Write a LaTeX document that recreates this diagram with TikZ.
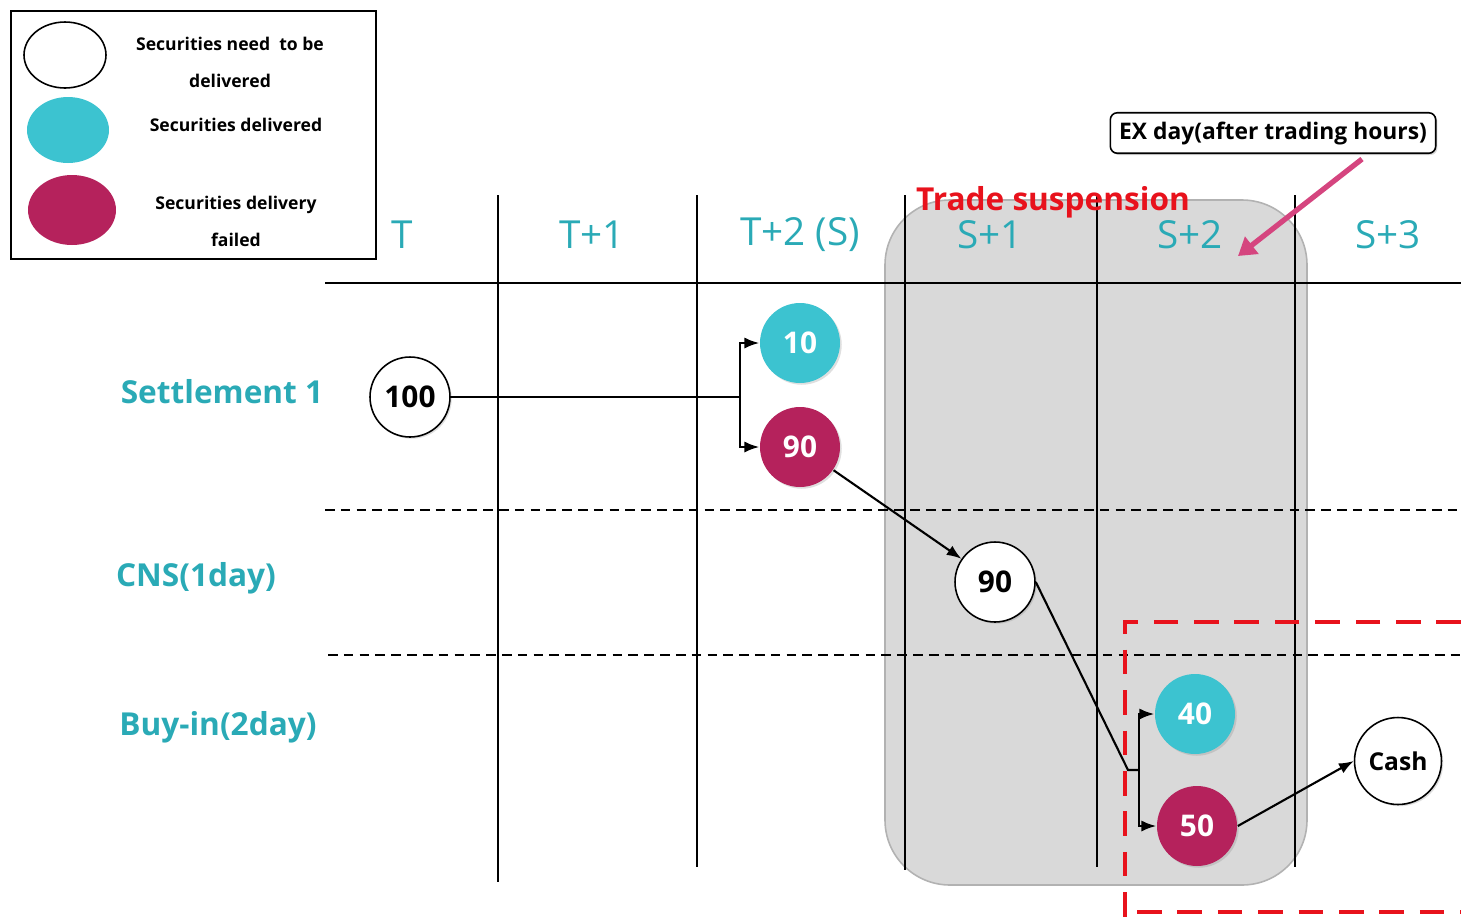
\documentclass[tikz,border=0pt]{standalone}
\usepackage{fontspec}
\setmainfont{Open Sans}
\usetikzlibrary{positioning,arrows.meta,shadows,shapes.geometric}
\definecolor{tealtxt}{HTML}{2AAAB6}
\definecolor{cyanc}{HTML}{3CC3D0}
\definecolor{magc}{HTML}{B5225C}
\definecolor{redc}{HTML}{E8121C}
\definecolor{pinkc}{HTML}{D5457F}
\definecolor{grayc}{HTML}{D9D9D9}

\begin{document}
\begin{tikzpicture}[x=0.02cm,y=-0.02cm,line width=0.9pt,
        hdr/.style={text=tealtxt,font=\fontsize{22}{26}\selectfont},
        rowlbl/.style={text=tealtxt,font=\bfseries\fontsize{18}{22}\selectfont},
        need/.style={circle,draw,line width=0.9pt,fill=white,minimum size=1.6cm,inner sep=0pt,font=\bfseries\fontsize{17}{20}\selectfont,drop shadow={opacity=0.25,shadow xshift=1pt,shadow yshift=-1pt}},
        done/.style={need,draw=none,fill=cyanc,text=white},
        fail/.style={need,draw=none,fill=magc,text=white},
        conn/.style={line width=1.2pt},
        lgd/.style={font=\bfseries\fontsize{10}{21}\selectfont,align=center},
        lgshape/.style={ellipse,inner sep=0pt}]
        \useasboundingbox (0,0) rectangle (1461,917);
        \draw[gray!60,fill=grayc,rounded corners=1.3cm] (885,200) rectangle (1307,885);
        \draw[line width=1.6pt] (11,11) rectangle (376,259);
        \node[lgshape,draw,fill=white,minimum width=1.64cm,minimum height=1.32cm] (lgneed) at (65,55) {};
        \node[lgshape,fill=cyanc,minimum width=1.64cm,minimum height=1.32cm] (lgdone) at (68,130) {};
        \node[lgshape,fill=magc,minimum width=1.76cm,minimum height=1.4cm] (lgfail) at (72,210) {};
        \node[lgd] (lgneedtxt) at (230,62) {Securities need\ \ to be\\delivered};
        \node[lgd] (lgdonetxt) at (236,125) {Securities delivered};
        \node[lgd] (lgfailtxt) at (236,221) {Securities delivery\\failed};
        \draw (325,283) -- (1461,283);
        \foreach \x/\b in {498/882,697/867,905/870,1097/867,1295/867}
            \draw (\x,195) -- (\x,\b);
        \draw[dash pattern=on 5.5pt off 3.5pt] (325,510) -- (1461,510);
        \draw[dash pattern=on 5.5pt off 3.5pt] (328,655) -- (1461,655);
        \node[hdr] (hT) at (402,235) {T};
        \node[hdr] (hT1) at (592,235) {T+1};
        \node[hdr] (hT2) at (800,235) {T+2 (S)};
        \node[hdr] (hS1) at (990,235) {S+1};
        \node[hdr] (hS2) at (1190,235) {S+2};
        \node[hdr] (hS3) at (1388,235) {S+3};
        \node[rowlbl] (rset) at (222,392) {Settlement 1};
        \node[rowlbl] (rcns) at (196,578) {CNS(1day)};
        \node[rowlbl] (rbuy) at (218,727) {Buy-in(2day)};
        \node[text=redc,font=\bfseries\fontsize{18}{20}\selectfont] (susp) at (1053,202) {Trade suspension};
        \node[draw,rounded corners=4pt,fill=white,inner sep=5pt,font=\bfseries\fontsize{13}{15}\selectfont,drop shadow={opacity=0.3,shadow xshift=1pt,shadow yshift=-1pt}] (exday) at (1273,133) {EX day(after trading hours)};
        \coordinate (exend) at (1238,256);
        \draw[pinkc,line width=3pt,-{Triangle[length=10pt,width=12pt]}] ([xshift=1.78cm,yshift=-0.1cm]exday.south) -- (exend);
        \node[need] (n100) at (410,397) {100};
        \node[done] (d10) at (800,343) {10};
        \node[fail] (f90) at (800,447) {90};
        \node[need] (n90) at (995,582) {90};
        \node[done] (d40) at (1195,714) {40};
        \node[fail] (f50) at (1197,826) {50};
        \node[need,minimum size=1.74cm,font=\bfseries\fontsize{14}{16}\selectfont] (cash) at (1398,761) {Cash};
        \coordinate (b1) at (740,397);
        \draw[conn] (n100) -- (b1);
        \draw[conn,-{Latex}] (b1) |- (d10);
        \draw[conn,-{Latex}] (b1) |- (f90);
        \draw[conn,-{Latex}] (f90) -- (n90);
        \coordinate (b2) at (1128,770);
        \coordinate (b3) at (1139,770);
        \draw[conn] (n90.east) -- (b2) -- (b3);
        \draw[conn,-{Latex}] (b3) |- (d40);
        \draw[conn,-{Latex}] (b3) |- (f50);
        \draw[conn,-{Latex}] (f50.east) -- (cash.west);
        \draw[redc,line width=2.8pt,dash pattern=on 14pt off 9pt] (1461,622) -- (1125,622) -- (1125,917);
        \draw[redc,line width=2.8pt,dash pattern=on 14pt off 9pt] (1137,912) -- (1461,912);
    \end{tikzpicture}
\end{document}
